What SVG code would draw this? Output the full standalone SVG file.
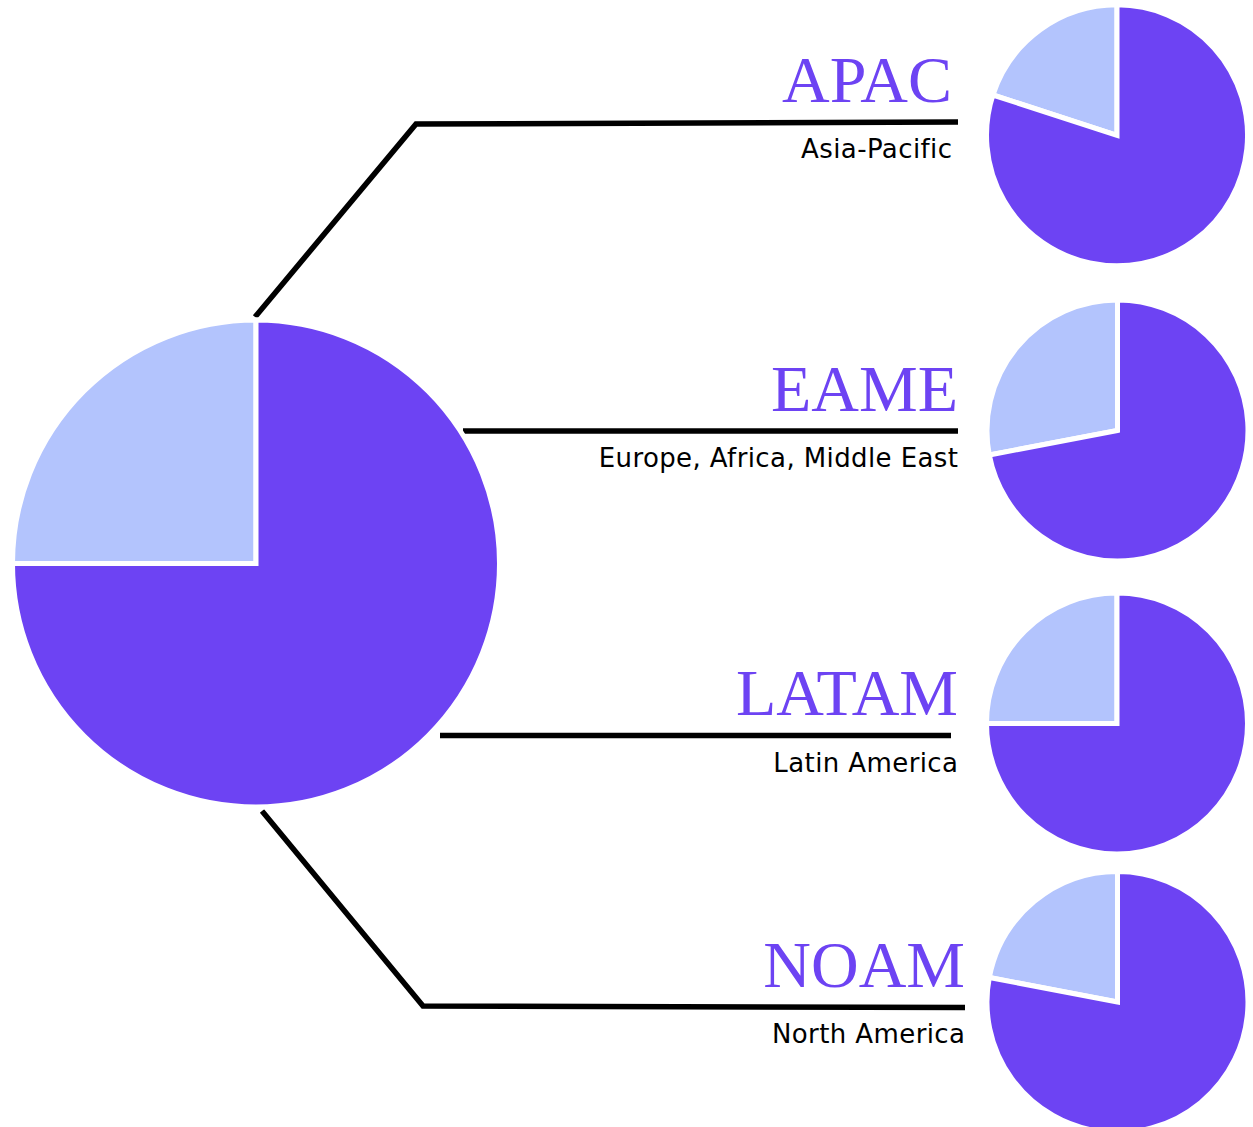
<svg xmlns="http://www.w3.org/2000/svg" width="1253" height="1127" viewBox="0 0 1253 1127">
<style>
.dark{fill:#6d43f3;stroke:#ffffff;stroke-width:5;stroke-linejoin:miter}
.light{fill:#b3c4fd;stroke:#ffffff;stroke-width:5;stroke-linejoin:miter}
.conn{fill:none;stroke:#000000;stroke-width:5.5;stroke-linejoin:miter;stroke-linecap:butt}
.title{font-family:"Liberation Serif","Times New Roman",serif;font-size:66px;fill:#6d43f3;text-anchor:end}
.sub{font-family:"DejaVu Sans",Verdana,sans-serif;font-size:26px;letter-spacing:0.4px;fill:#000000;text-anchor:end}
</style>
<rect width="1253" height="1127" fill="#ffffff"/>
<g id="connectors">
<path class="conn" d="M255,317 L416,124 L958,122"/>
<path class="conn" d="M463,431 L958,431"/>
<path class="conn" d="M440,735.5 L951,735.5"/>
<path class="conn" d="M262,811 L423,1006 L965,1007.5"/>
</g>
<g id="total">
<path class="light" d="M256,563.5 L12.5,563.5 A243.5,243.5 0 0 1 256,320 Z"/>
<path class="dark" d="M256,563.5 L256,320 A243.5,243.5 0 1 1 12.5,563.5 Z"/>
</g>
<g id="apac">
<path class="light" d="M1117,135.3 L1117,4.8 A130.5,130.5 0 0 0 992.9,95 Z"/>
<path class="dark" d="M1117,135.3 L992.9,95 A130.5,130.5 0 1 0 1117,4.8 Z"/>
<text class="title" x="952" y="102">APAC</text>
<text class="sub" x="952.4" y="158">Asia-Pacific</text>
</g>
<g id="eame">
<path class="light" d="M1117.5,430.5 L1117.5,300 A130.5,130.5 0 0 0 989.3,455 Z"/>
<path class="dark" d="M1117.5,430.5 L989.3,455 A130.5,130.5 0 1 0 1117.5,300 Z"/>
<text class="title" x="958" y="411">EAME</text>
<text class="sub" x="958.4" y="467">Europe, Africa, Middle East</text>
</g>
<g id="latam">
<path class="light" d="M1117,723.5 L1117,593 A130.5,130.5 0 0 0 986.5,723.5 Z"/>
<path class="dark" d="M1117,723.5 L986.5,723.5 A130.5,130.5 0 1 0 1117,593 Z"/>
<text class="title" x="958" y="715">LATAM</text>
<text class="sub" x="958.4" y="772">Latin America</text>
</g>
<g id="noam">
<path class="light" d="M1117.5,1002 L1117.5,871.5 A130.5,130.5 0 0 0 989.3,977.5 Z"/>
<path class="dark" d="M1117.5,1002 L989.3,977.5 A130.5,130.5 0 1 0 1117.5,871.5 Z"/>
<text class="title" x="965" y="987">NOAM</text>
<text class="sub" x="965.4" y="1043">North America</text>
</g>
</svg>
